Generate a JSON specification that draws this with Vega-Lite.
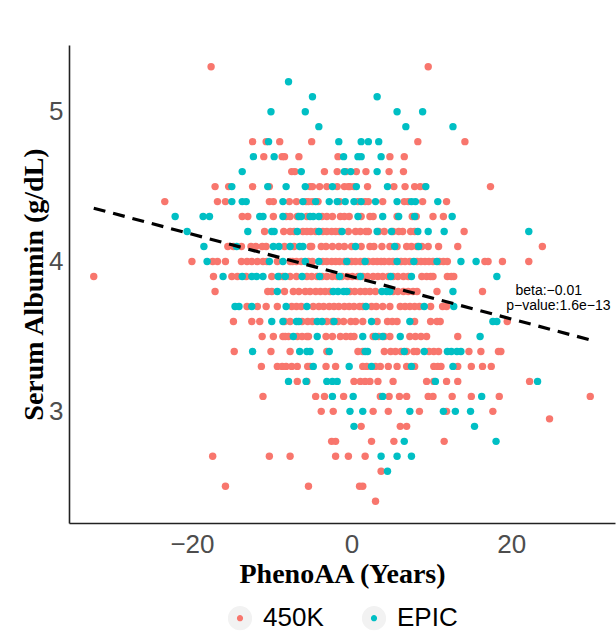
{
"$schema": "https://vega.github.io/schema/vega-lite/v6.json",
"width": 546, "height": 478,
"autosize": {"type": "none"},
"padding": {"left": 69, "top": 45, "right": 1, "bottom": 112},
"background": "white",
"config": {
 "view": {"stroke": null},
 "axis": {"grid": false, "ticks": false, "domainColor": "#222222", "domainWidth": 1.6, "labelColor": "#4D4D4D", "labelFont": "Liberation Sans", "labelFontSize": 26, "titleFont": "Liberation Serif", "titleFontWeight": "bold", "titleFontSize": 28, "titleColor": "black"},
 "legend": {"layout": {"bottom": {"anchor": "middle"}}}
},
"datasets": {
"pts": [
{"x":-17.6,"y":5.3,"s":"450K"},{"x":9.6,"y":5.3,"s":"450K"},
{"x":-7.9,"y":5.2,"s":"EPIC"},
{"x":-4.9,"y":5.1,"s":"EPIC"},{"x":3.2,"y":5.1,"s":"EPIC"},
{"x":-10.1,"y":5.0,"s":"EPIC"},{"x":-5.8,"y":5.0,"s":"EPIC"},{"x":5.7,"y":5.0,"s":"EPIC"},{"x":8.9,"y":5.0,"s":"EPIC"},
{"x":-4.1,"y":4.9,"s":"EPIC"},{"x":6.8,"y":4.9,"s":"EPIC"},{"x":12.7,"y":4.9,"s":"EPIC"},
{"x":-12.4,"y":4.8,"s":"450K"},{"x":-10.7,"y":4.8,"s":"450K"},{"x":-9.0,"y":4.8,"s":"450K"},{"x":-5.0,"y":4.8,"s":"450K"},{"x":8.3,"y":4.8,"s":"450K"},{"x":14.2,"y":4.8,"s":"450K"},
{"x":-10.4,"y":4.8,"s":"EPIC"},{"x":-1.6,"y":4.8,"s":"EPIC"},{"x":1.2,"y":4.8,"s":"EPIC"},{"x":2.1,"y":4.8,"s":"EPIC"},{"x":3.4,"y":4.8,"s":"EPIC"},
{"x":-11.0,"y":4.7,"s":"450K"},{"x":-8.7,"y":4.7,"s":"450K"},{"x":-8.4,"y":4.7,"s":"450K"},{"x":-6.6,"y":4.7,"s":"450K"},{"x":-1.7,"y":4.7,"s":"450K"},{"x":4.8,"y":4.7,"s":"450K"},{"x":6.6,"y":4.7,"s":"450K"},
{"x":-12.3,"y":4.7,"s":"EPIC"},{"x":-9.7,"y":4.7,"s":"EPIC"},{"x":-1.0,"y":4.7,"s":"EPIC"},{"x":0.8,"y":4.7,"s":"EPIC"},{"x":1.2,"y":4.7,"s":"EPIC"},{"x":3.7,"y":4.7,"s":"EPIC"},
{"x":-7.5,"y":4.6,"s":"450K"},{"x":-7.1,"y":4.6,"s":"450K"},{"x":-3.4,"y":4.6,"s":"450K"},{"x":-1.8,"y":4.6,"s":"450K"},{"x":-0.7,"y":4.6,"s":"450K"},{"x":0.6,"y":4.6,"s":"450K"},{"x":1.8,"y":4.6,"s":"450K"},{"x":4.7,"y":4.6,"s":"450K"},{"x":6.5,"y":4.6,"s":"450K"},
{"x":-13.7,"y":4.6,"s":"EPIC"},{"x":-6.3,"y":4.6,"s":"EPIC"},{"x":-0.9,"y":4.6,"s":"EPIC"},{"x":3.2,"y":4.6,"s":"EPIC"},{"x":-0.1,"y":4.6,"s":"EPIC"},
{"x":-17.1,"y":4.5,"s":"450K"},{"x":-15.4,"y":4.5,"s":"450K"},{"x":-12.4,"y":4.5,"s":"450K"},{"x":-10.3,"y":4.5,"s":"450K"},{"x":-5.2,"y":4.5,"s":"450K"},{"x":-4.9,"y":4.5,"s":"450K"},{"x":-4.0,"y":4.5,"s":"450K"},{"x":-3.1,"y":4.5,"s":"450K"},{"x":-1.8,"y":4.5,"s":"450K"},{"x":-0.9,"y":4.5,"s":"450K"},{"x":-0.4,"y":4.5,"s":"450K"},{"x":-0.2,"y":4.5,"s":"450K"},{"x":0.3,"y":4.5,"s":"450K"},{"x":2.0,"y":4.5,"s":"450K"},{"x":5.3,"y":4.5,"s":"450K"},{"x":6.7,"y":4.5,"s":"450K"},{"x":7.9,"y":4.5,"s":"450K"},{"x":8.6,"y":4.5,"s":"450K"},{"x":9.2,"y":4.5,"s":"450K"},{"x":17.4,"y":4.5,"s":"450K"},
{"x":-15.0,"y":4.5,"s":"EPIC"},{"x":-10.5,"y":4.5,"s":"EPIC"},{"x":-8.2,"y":4.5,"s":"EPIC"},{"x":-5.8,"y":4.5,"s":"EPIC"},{"x":-2.4,"y":4.5,"s":"EPIC"},{"x":0.6,"y":4.5,"s":"EPIC"},{"x":4.5,"y":4.5,"s":"EPIC"},{"x":9.3,"y":4.5,"s":"EPIC"},
{"x":-23.4,"y":4.4,"s":"450K"},{"x":-16.8,"y":4.4,"s":"450K"},{"x":-15.8,"y":4.4,"s":"450K"},{"x":-10.3,"y":4.4,"s":"450K"},{"x":-9.8,"y":4.4,"s":"450K"},{"x":-7.8,"y":4.4,"s":"450K"},{"x":-6.9,"y":4.4,"s":"450K"},{"x":-5.7,"y":4.4,"s":"450K"},{"x":-5.4,"y":4.4,"s":"450K"},{"x":-4.9,"y":4.4,"s":"450K"},{"x":-4.2,"y":4.4,"s":"450K"},{"x":-1.5,"y":4.4,"s":"450K"},{"x":0.8,"y":4.4,"s":"450K"},{"x":1.7,"y":4.4,"s":"450K"},{"x":2.1,"y":4.4,"s":"450K"},{"x":3.9,"y":4.4,"s":"450K"},{"x":6.6,"y":4.4,"s":"450K"},{"x":7.1,"y":4.4,"s":"450K"},{"x":8.9,"y":4.4,"s":"450K"},{"x":11.9,"y":4.4,"s":"450K"},
{"x":-15.0,"y":4.4,"s":"EPIC"},{"x":-13.7,"y":4.4,"s":"EPIC"},{"x":-13.2,"y":4.4,"s":"EPIC"},{"x":-8.6,"y":4.4,"s":"EPIC"},{"x":-6.1,"y":4.4,"s":"EPIC"},{"x":-4.5,"y":4.4,"s":"EPIC"},{"x":-2.8,"y":4.4,"s":"EPIC"},{"x":-1.8,"y":4.4,"s":"EPIC"},{"x":-0.8,"y":4.4,"s":"EPIC"},{"x":0.3,"y":4.4,"s":"EPIC"},{"x":1.2,"y":4.4,"s":"EPIC"},{"x":3.0,"y":4.4,"s":"EPIC"},{"x":5.7,"y":4.4,"s":"EPIC"},{"x":7.5,"y":4.4,"s":"EPIC"},{"x":8.0,"y":4.4,"s":"EPIC"},{"x":10.8,"y":4.4,"s":"EPIC"},
{"x":-13.7,"y":4.3,"s":"450K"},{"x":-13.0,"y":4.3,"s":"450K"},{"x":-9.8,"y":4.3,"s":"450K"},{"x":-8.2,"y":4.3,"s":"450K"},{"x":-7.7,"y":4.3,"s":"450K"},{"x":-6.8,"y":4.3,"s":"450K"},{"x":-5.6,"y":4.3,"s":"450K"},{"x":-3.7,"y":4.3,"s":"450K"},{"x":-3.1,"y":4.3,"s":"450K"},{"x":-2.4,"y":4.3,"s":"450K"},{"x":-1.4,"y":4.3,"s":"450K"},{"x":-0.9,"y":4.3,"s":"450K"},{"x":-0.3,"y":4.3,"s":"450K"},{"x":1.2,"y":4.3,"s":"450K"},{"x":2.3,"y":4.3,"s":"450K"},{"x":2.7,"y":4.3,"s":"450K"},{"x":5.7,"y":4.3,"s":"450K"},{"x":7.6,"y":4.3,"s":"450K"},{"x":8.1,"y":4.3,"s":"450K"},{"x":10.2,"y":4.3,"s":"450K"},{"x":11.5,"y":4.3,"s":"450K"},
{"x":-22.1,"y":4.3,"s":"EPIC"},{"x":-18.6,"y":4.3,"s":"EPIC"},{"x":-17.8,"y":4.3,"s":"EPIC"},{"x":-11.5,"y":4.3,"s":"EPIC"},{"x":-11.1,"y":4.3,"s":"EPIC"},{"x":-8.6,"y":4.3,"s":"EPIC"},{"x":-6.6,"y":4.3,"s":"EPIC"},{"x":-6.3,"y":4.3,"s":"EPIC"},{"x":-5.2,"y":4.3,"s":"EPIC"},{"x":-4.8,"y":4.3,"s":"EPIC"},{"x":-4.1,"y":4.3,"s":"EPIC"},{"x":0.8,"y":4.3,"s":"EPIC"},{"x":3.9,"y":4.3,"s":"EPIC"},{"x":5.9,"y":4.3,"s":"EPIC"},{"x":7.9,"y":4.3,"s":"EPIC"},{"x":12.6,"y":4.3,"s":"EPIC"},
{"x":-10.9,"y":4.2,"s":"450K"},{"x":-8.5,"y":4.2,"s":"450K"},{"x":-7.7,"y":4.2,"s":"450K"},{"x":-7.2,"y":4.2,"s":"450K"},{"x":-6.1,"y":4.2,"s":"450K"},{"x":-5.6,"y":4.2,"s":"450K"},{"x":-5.1,"y":4.2,"s":"450K"},{"x":-4.5,"y":4.2,"s":"450K"},{"x":-3.6,"y":4.2,"s":"450K"},{"x":-3.1,"y":4.2,"s":"450K"},{"x":-2.5,"y":4.2,"s":"450K"},{"x":-2.0,"y":4.2,"s":"450K"},{"x":-1.5,"y":4.2,"s":"450K"},{"x":-0.4,"y":4.2,"s":"450K"},{"x":0.5,"y":4.2,"s":"450K"},{"x":1.1,"y":4.2,"s":"450K"},{"x":1.8,"y":4.2,"s":"450K"},{"x":2.1,"y":4.2,"s":"450K"},{"x":3.4,"y":4.2,"s":"450K"},{"x":4.1,"y":4.2,"s":"450K"},{"x":5.2,"y":4.2,"s":"450K"},{"x":5.9,"y":4.2,"s":"450K"},{"x":6.4,"y":4.2,"s":"450K"},{"x":7.4,"y":4.2,"s":"450K"},{"x":7.9,"y":4.2,"s":"450K"},{"x":14.1,"y":4.2,"s":"450K"},
{"x":-20.6,"y":4.2,"s":"EPIC"},{"x":-13.0,"y":4.2,"s":"EPIC"},{"x":-10.0,"y":4.2,"s":"EPIC"},{"x":-9.7,"y":4.2,"s":"EPIC"},{"x":-6.8,"y":4.2,"s":"EPIC"},{"x":-4.1,"y":4.2,"s":"EPIC"},{"x":-1.2,"y":4.2,"s":"EPIC"},{"x":3.2,"y":4.2,"s":"EPIC"},{"x":5.0,"y":4.2,"s":"EPIC"},{"x":8.3,"y":4.2,"s":"EPIC"},{"x":9.6,"y":4.2,"s":"EPIC"},{"x":11.6,"y":4.2,"s":"EPIC"},{"x":22.2,"y":4.2,"s":"EPIC"},
{"x":-15.5,"y":4.1,"s":"450K"},{"x":-14.8,"y":4.1,"s":"450K"},{"x":-13.8,"y":4.1,"s":"450K"},{"x":-12.6,"y":4.1,"s":"450K"},{"x":-12.0,"y":4.1,"s":"450K"},{"x":-11.2,"y":4.1,"s":"450K"},{"x":-10.7,"y":4.1,"s":"450K"},{"x":-8.4,"y":4.1,"s":"450K"},{"x":-7.2,"y":4.1,"s":"450K"},{"x":-5.2,"y":4.1,"s":"450K"},{"x":-5.0,"y":4.1,"s":"450K"},{"x":-3.8,"y":4.1,"s":"450K"},{"x":-3.2,"y":4.1,"s":"450K"},{"x":-2.4,"y":4.1,"s":"450K"},{"x":-1.6,"y":4.1,"s":"450K"},{"x":-0.9,"y":4.1,"s":"450K"},{"x":0.0,"y":4.1,"s":"450K"},{"x":1.2,"y":4.1,"s":"450K"},{"x":2.3,"y":4.1,"s":"450K"},{"x":2.8,"y":4.1,"s":"450K"},{"x":3.8,"y":4.1,"s":"450K"},{"x":4.8,"y":4.1,"s":"450K"},{"x":5.7,"y":4.1,"s":"450K"},{"x":6.9,"y":4.1,"s":"450K"},{"x":7.5,"y":4.1,"s":"450K"},{"x":8.2,"y":4.1,"s":"450K"},{"x":8.8,"y":4.1,"s":"450K"},{"x":9.6,"y":4.1,"s":"450K"},{"x":10.9,"y":4.1,"s":"450K"},{"x":13.3,"y":4.1,"s":"450K"},{"x":23.9,"y":4.1,"s":"450K"},
{"x":-18.5,"y":4.1,"s":"EPIC"},{"x":-14.4,"y":4.1,"s":"EPIC"},{"x":-9.8,"y":4.1,"s":"EPIC"},{"x":-9.1,"y":4.1,"s":"EPIC"},{"x":-7.7,"y":4.1,"s":"EPIC"},{"x":-6.5,"y":4.1,"s":"EPIC"},{"x":-6.1,"y":4.1,"s":"EPIC"},{"x":0.5,"y":4.1,"s":"EPIC"},{"x":5.4,"y":4.1,"s":"EPIC"},{"x":8.4,"y":4.1,"s":"EPIC"},
{"x":-20.0,"y":4.0,"s":"450K"},{"x":-17.4,"y":4.0,"s":"450K"},{"x":-16.8,"y":4.0,"s":"450K"},{"x":-15.8,"y":4.0,"s":"450K"},{"x":-13.8,"y":4.0,"s":"450K"},{"x":-13.1,"y":4.0,"s":"450K"},{"x":-12.5,"y":4.0,"s":"450K"},{"x":-11.8,"y":4.0,"s":"450K"},{"x":-11.1,"y":4.0,"s":"450K"},{"x":-10.6,"y":4.0,"s":"450K"},{"x":-9.3,"y":4.0,"s":"450K"},{"x":-7.7,"y":4.0,"s":"450K"},{"x":-7.4,"y":4.0,"s":"450K"},{"x":-6.9,"y":4.0,"s":"450K"},{"x":-6.3,"y":4.0,"s":"450K"},{"x":-5.4,"y":4.0,"s":"450K"},{"x":-4.9,"y":4.0,"s":"450K"},{"x":-3.6,"y":4.0,"s":"450K"},{"x":-3.1,"y":4.0,"s":"450K"},{"x":-2.5,"y":4.0,"s":"450K"},{"x":-2.0,"y":4.0,"s":"450K"},{"x":-1.5,"y":4.0,"s":"450K"},{"x":-0.9,"y":4.0,"s":"450K"},{"x":-0.4,"y":4.0,"s":"450K"},{"x":0.0,"y":4.0,"s":"450K"},{"x":0.5,"y":4.0,"s":"450K"},{"x":1.1,"y":4.0,"s":"450K"},{"x":1.5,"y":4.0,"s":"450K"},{"x":2.1,"y":4.0,"s":"450K"},{"x":2.7,"y":4.0,"s":"450K"},{"x":3.2,"y":4.0,"s":"450K"},{"x":3.7,"y":4.0,"s":"450K"},{"x":4.1,"y":4.0,"s":"450K"},{"x":4.7,"y":4.0,"s":"450K"},{"x":5.2,"y":4.0,"s":"450K"},{"x":6.2,"y":4.0,"s":"450K"},{"x":6.7,"y":4.0,"s":"450K"},{"x":7.3,"y":4.0,"s":"450K"},{"x":8.2,"y":4.0,"s":"450K"},{"x":8.7,"y":4.0,"s":"450K"},{"x":9.2,"y":4.0,"s":"450K"},{"x":9.7,"y":4.0,"s":"450K"},{"x":10.2,"y":4.0,"s":"450K"},{"x":11.0,"y":4.0,"s":"450K"},{"x":11.5,"y":4.0,"s":"450K"},{"x":12.0,"y":4.0,"s":"450K"},{"x":16.7,"y":4.0,"s":"450K"},{"x":17.1,"y":4.0,"s":"450K"},{"x":18.9,"y":4.0,"s":"450K"},{"x":22.2,"y":4.0,"s":"450K"},
{"x":-18.1,"y":4.0,"s":"EPIC"},{"x":-10.3,"y":4.0,"s":"EPIC"},{"x":-8.6,"y":4.0,"s":"EPIC"},{"x":-5.8,"y":4.0,"s":"EPIC"},{"x":-4.1,"y":4.0,"s":"EPIC"},{"x":-0.6,"y":4.0,"s":"EPIC"},{"x":1.7,"y":4.0,"s":"EPIC"},{"x":5.7,"y":4.0,"s":"EPIC"},{"x":7.8,"y":4.0,"s":"EPIC"},{"x":10.7,"y":4.0,"s":"EPIC"},{"x":13.7,"y":4.0,"s":"EPIC"},{"x":15.6,"y":4.0,"s":"EPIC"},
{"x":-32.3,"y":3.9,"s":"450K"},{"x":-17.3,"y":3.9,"s":"450K"},{"x":-15.0,"y":3.9,"s":"450K"},{"x":-14.3,"y":3.9,"s":"450K"},{"x":-13.2,"y":3.9,"s":"450K"},{"x":-10.0,"y":3.9,"s":"450K"},{"x":-9.0,"y":3.9,"s":"450K"},{"x":-8.6,"y":3.9,"s":"450K"},{"x":-7.7,"y":3.9,"s":"450K"},{"x":-6.9,"y":3.9,"s":"450K"},{"x":-5.6,"y":3.9,"s":"450K"},{"x":-5.0,"y":3.9,"s":"450K"},{"x":-4.3,"y":3.9,"s":"450K"},{"x":-3.7,"y":3.9,"s":"450K"},{"x":-3.1,"y":3.9,"s":"450K"},{"x":-2.4,"y":3.9,"s":"450K"},{"x":-1.8,"y":3.9,"s":"450K"},{"x":-1.2,"y":3.9,"s":"450K"},{"x":-0.5,"y":3.9,"s":"450K"},{"x":0.1,"y":3.9,"s":"450K"},{"x":0.8,"y":3.9,"s":"450K"},{"x":1.4,"y":3.9,"s":"450K"},{"x":2.0,"y":3.9,"s":"450K"},{"x":2.7,"y":3.9,"s":"450K"},{"x":3.3,"y":3.9,"s":"450K"},{"x":3.9,"y":3.9,"s":"450K"},{"x":4.6,"y":3.9,"s":"450K"},{"x":5.2,"y":3.9,"s":"450K"},{"x":5.8,"y":3.9,"s":"450K"},{"x":6.5,"y":3.9,"s":"450K"},{"x":7.1,"y":3.9,"s":"450K"},{"x":8.8,"y":3.9,"s":"450K"},{"x":9.4,"y":3.9,"s":"450K"},{"x":9.9,"y":3.9,"s":"450K"},{"x":10.2,"y":3.9,"s":"450K"},{"x":12.0,"y":3.9,"s":"450K"},{"x":12.5,"y":3.9,"s":"450K"},{"x":12.8,"y":3.9,"s":"450K"},
{"x":-16.1,"y":3.9,"s":"EPIC"},{"x":-13.7,"y":3.9,"s":"EPIC"},{"x":-12.5,"y":3.9,"s":"EPIC"},{"x":-11.9,"y":3.9,"s":"EPIC"},{"x":-11.1,"y":3.9,"s":"EPIC"},{"x":-9.2,"y":3.9,"s":"EPIC"},{"x":-8.3,"y":3.9,"s":"EPIC"},{"x":-6.2,"y":3.9,"s":"EPIC"},{"x":-4.0,"y":3.9,"s":"EPIC"},{"x":-1.5,"y":3.9,"s":"EPIC"},{"x":1.1,"y":3.9,"s":"EPIC"},{"x":4.9,"y":3.9,"s":"EPIC"},{"x":7.5,"y":3.9,"s":"EPIC"},{"x":18.2,"y":3.9,"s":"EPIC"},
{"x":-17.1,"y":3.8,"s":"450K"},{"x":-10.5,"y":3.8,"s":"450K"},{"x":-10.0,"y":3.8,"s":"450K"},{"x":-8.4,"y":3.8,"s":"450K"},{"x":-7.3,"y":3.8,"s":"450K"},{"x":-6.6,"y":3.8,"s":"450K"},{"x":-5.8,"y":3.8,"s":"450K"},{"x":-5.2,"y":3.8,"s":"450K"},{"x":-4.5,"y":3.8,"s":"450K"},{"x":-3.9,"y":3.8,"s":"450K"},{"x":-3.3,"y":3.8,"s":"450K"},{"x":-2.7,"y":3.8,"s":"450K"},{"x":-0.2,"y":3.8,"s":"450K"},{"x":0.4,"y":3.8,"s":"450K"},{"x":1.1,"y":3.8,"s":"450K"},{"x":1.7,"y":3.8,"s":"450K"},{"x":2.3,"y":3.8,"s":"450K"},{"x":3.0,"y":3.8,"s":"450K"},{"x":5.2,"y":3.8,"s":"450K"},{"x":5.8,"y":3.8,"s":"450K"},{"x":6.5,"y":3.8,"s":"450K"},{"x":7.1,"y":3.8,"s":"450K"},{"x":7.7,"y":3.8,"s":"450K"},{"x":8.2,"y":3.8,"s":"450K"},{"x":10.7,"y":3.8,"s":"450K"},{"x":16.4,"y":3.8,"s":"450K"},
{"x":-9.3,"y":3.8,"s":"EPIC"},{"x":-2.3,"y":3.8,"s":"EPIC"},{"x":-1.7,"y":3.8,"s":"EPIC"},{"x":-1.0,"y":3.8,"s":"EPIC"},{"x":-0.6,"y":3.8,"s":"EPIC"},{"x":3.8,"y":3.8,"s":"EPIC"},{"x":4.4,"y":3.8,"s":"EPIC"},{"x":4.8,"y":3.8,"s":"EPIC"},{"x":12.7,"y":3.8,"s":"EPIC"},
{"x":-13.1,"y":3.7,"s":"450K"},{"x":-11.8,"y":3.7,"s":"450K"},{"x":-10.7,"y":3.7,"s":"450K"},{"x":-9.3,"y":3.7,"s":"450K"},{"x":-7.5,"y":3.7,"s":"450K"},{"x":-6.9,"y":3.7,"s":"450K"},{"x":-6.3,"y":3.7,"s":"450K"},{"x":-4.8,"y":3.7,"s":"450K"},{"x":-4.1,"y":3.7,"s":"450K"},{"x":-3.5,"y":3.7,"s":"450K"},{"x":-2.8,"y":3.7,"s":"450K"},{"x":-2.2,"y":3.7,"s":"450K"},{"x":-1.6,"y":3.7,"s":"450K"},{"x":-0.9,"y":3.7,"s":"450K"},{"x":-0.3,"y":3.7,"s":"450K"},{"x":0.3,"y":3.7,"s":"450K"},{"x":1.0,"y":3.7,"s":"450K"},{"x":1.4,"y":3.7,"s":"450K"},{"x":2.5,"y":3.7,"s":"450K"},{"x":3.1,"y":3.7,"s":"450K"},{"x":3.9,"y":3.7,"s":"450K"},{"x":4.8,"y":3.7,"s":"450K"},{"x":6.1,"y":3.7,"s":"450K"},{"x":6.7,"y":3.7,"s":"450K"},{"x":7.3,"y":3.7,"s":"450K"},{"x":7.9,"y":3.7,"s":"450K"},{"x":8.5,"y":3.7,"s":"450K"},{"x":9.9,"y":3.7,"s":"450K"},{"x":11.4,"y":3.7,"s":"450K"},{"x":11.9,"y":3.7,"s":"450K"},
{"x":-14.6,"y":3.7,"s":"EPIC"},{"x":-14.1,"y":3.7,"s":"EPIC"},{"x":-12.5,"y":3.7,"s":"EPIC"},{"x":-8.2,"y":3.7,"s":"EPIC"},{"x":-5.6,"y":3.7,"s":"EPIC"},{"x":1.8,"y":3.7,"s":"EPIC"},{"x":9.1,"y":3.7,"s":"EPIC"},{"x":12.8,"y":3.7,"s":"EPIC"},
{"x":-14.8,"y":3.6,"s":"450K"},{"x":-12.5,"y":3.6,"s":"450K"},{"x":-11.5,"y":3.6,"s":"450K"},{"x":-8.4,"y":3.6,"s":"450K"},{"x":-7.7,"y":3.6,"s":"450K"},{"x":-6.2,"y":3.6,"s":"450K"},{"x":-5.5,"y":3.6,"s":"450K"},{"x":-4.9,"y":3.6,"s":"450K"},{"x":-3.1,"y":3.6,"s":"450K"},{"x":-2.4,"y":3.6,"s":"450K"},{"x":-1.7,"y":3.6,"s":"450K"},{"x":-1.0,"y":3.6,"s":"450K"},{"x":-0.1,"y":3.6,"s":"450K"},{"x":0.5,"y":3.6,"s":"450K"},{"x":1.4,"y":3.6,"s":"450K"},{"x":3.2,"y":3.6,"s":"450K"},{"x":4.5,"y":3.6,"s":"450K"},{"x":5.1,"y":3.6,"s":"450K"},{"x":5.7,"y":3.6,"s":"450K"},{"x":7.9,"y":3.6,"s":"450K"},{"x":9.9,"y":3.6,"s":"450K"},{"x":10.7,"y":3.6,"s":"450K"},{"x":11.1,"y":3.6,"s":"450K"},{"x":19.5,"y":3.6,"s":"450K"},
{"x":-10.0,"y":3.6,"s":"EPIC"},{"x":-8.6,"y":3.6,"s":"EPIC"},{"x":-6.9,"y":3.6,"s":"EPIC"},{"x":-6.6,"y":3.6,"s":"EPIC"},{"x":-4.3,"y":3.6,"s":"EPIC"},{"x":-3.7,"y":3.6,"s":"EPIC"},{"x":-2.2,"y":3.6,"s":"EPIC"},{"x":2.5,"y":3.6,"s":"EPIC"},{"x":7.3,"y":3.6,"s":"EPIC"},{"x":17.7,"y":3.6,"s":"EPIC"},{"x":18.2,"y":3.6,"s":"EPIC"},
{"x":-11.2,"y":3.5,"s":"450K"},{"x":-9.8,"y":3.5,"s":"450K"},{"x":-8.6,"y":3.5,"s":"450K"},{"x":-8.3,"y":3.5,"s":"450K"},{"x":-7.9,"y":3.5,"s":"450K"},{"x":-6.8,"y":3.5,"s":"450K"},{"x":-6.2,"y":3.5,"s":"450K"},{"x":-5.6,"y":3.5,"s":"450K"},{"x":-5.4,"y":3.5,"s":"450K"},{"x":-3.2,"y":3.5,"s":"450K"},{"x":-2.4,"y":3.5,"s":"450K"},{"x":-1.4,"y":3.5,"s":"450K"},{"x":-0.7,"y":3.5,"s":"450K"},{"x":-0.1,"y":3.5,"s":"450K"},{"x":0.3,"y":3.5,"s":"450K"},{"x":2.7,"y":3.5,"s":"450K"},{"x":3.4,"y":3.5,"s":"450K"},{"x":4.1,"y":3.5,"s":"450K"},{"x":4.8,"y":3.5,"s":"450K"},{"x":7.3,"y":3.5,"s":"450K"},{"x":8.0,"y":3.5,"s":"450K"},{"x":8.7,"y":3.5,"s":"450K"},{"x":9.4,"y":3.5,"s":"450K"},{"x":13.3,"y":3.5,"s":"450K"},
{"x":-7.3,"y":3.5,"s":"EPIC"},{"x":-4.3,"y":3.5,"s":"EPIC"},{"x":1.4,"y":3.5,"s":"EPIC"},{"x":3.0,"y":3.5,"s":"EPIC"},{"x":3.9,"y":3.5,"s":"EPIC"},{"x":6.1,"y":3.5,"s":"EPIC"},{"x":16.1,"y":3.5,"s":"EPIC"},
{"x":-14.7,"y":3.4,"s":"450K"},{"x":-10.1,"y":3.4,"s":"450K"},{"x":-7.7,"y":3.4,"s":"450K"},{"x":-3.1,"y":3.4,"s":"450K"},{"x":0.8,"y":3.4,"s":"450K"},{"x":1.4,"y":3.4,"s":"450K"},{"x":4.1,"y":3.4,"s":"450K"},{"x":4.9,"y":3.4,"s":"450K"},{"x":5.5,"y":3.4,"s":"450K"},{"x":6.2,"y":3.4,"s":"450K"},{"x":6.9,"y":3.4,"s":"450K"},{"x":7.8,"y":3.4,"s":"450K"},{"x":8.2,"y":3.4,"s":"450K"},{"x":9.7,"y":3.4,"s":"450K"},{"x":10.3,"y":3.4,"s":"450K"},{"x":10.9,"y":3.4,"s":"450K"},{"x":14.7,"y":3.4,"s":"450K"},{"x":16.2,"y":3.4,"s":"450K"},{"x":18.4,"y":3.4,"s":"450K"},{"x":18.7,"y":3.4,"s":"450K"},
{"x":-12.4,"y":3.4,"s":"EPIC"},{"x":-6.5,"y":3.4,"s":"EPIC"},{"x":-5.6,"y":3.4,"s":"EPIC"},{"x":-5.2,"y":3.4,"s":"EPIC"},{"x":-2.8,"y":3.4,"s":"EPIC"},{"x":1.7,"y":3.4,"s":"EPIC"},{"x":2.0,"y":3.4,"s":"EPIC"},{"x":6.6,"y":3.4,"s":"EPIC"},{"x":9.1,"y":3.4,"s":"EPIC"},{"x":12.0,"y":3.4,"s":"EPIC"},{"x":12.5,"y":3.4,"s":"EPIC"},{"x":13.2,"y":3.4,"s":"EPIC"},{"x":13.7,"y":3.4,"s":"EPIC"},
{"x":-11.3,"y":3.3,"s":"450K"},{"x":-9.3,"y":3.3,"s":"450K"},{"x":-8.7,"y":3.3,"s":"450K"},{"x":-8.2,"y":3.3,"s":"450K"},{"x":-7.5,"y":3.3,"s":"450K"},{"x":-6.8,"y":3.3,"s":"450K"},{"x":-5.5,"y":3.3,"s":"450K"},{"x":-5.2,"y":3.3,"s":"450K"},{"x":-3.2,"y":3.3,"s":"450K"},{"x":-2.0,"y":3.3,"s":"450K"},{"x":1.4,"y":3.3,"s":"450K"},{"x":1.9,"y":3.3,"s":"450K"},{"x":3.0,"y":3.3,"s":"450K"},{"x":3.6,"y":3.3,"s":"450K"},{"x":4.6,"y":3.3,"s":"450K"},{"x":5.7,"y":3.3,"s":"450K"},{"x":6.9,"y":3.3,"s":"450K"},{"x":7.9,"y":3.3,"s":"450K"},{"x":10.3,"y":3.3,"s":"450K"},{"x":10.8,"y":3.3,"s":"450K"},{"x":11.2,"y":3.3,"s":"450K"},{"x":13.3,"y":3.3,"s":"450K"},{"x":15.0,"y":3.3,"s":"450K"},{"x":16.4,"y":3.3,"s":"450K"},{"x":17.5,"y":3.3,"s":"450K"},
{"x":-4.8,"y":3.3,"s":"EPIC"},{"x":-0.3,"y":3.3,"s":"EPIC"},{"x":2.5,"y":3.3,"s":"EPIC"},{"x":7.5,"y":3.3,"s":"EPIC"},{"x":12.7,"y":3.3,"s":"EPIC"},
{"x":-6.8,"y":3.2,"s":"450K"},{"x":-5.6,"y":3.2,"s":"450K"},{"x":0.3,"y":3.2,"s":"450K"},{"x":1.1,"y":3.2,"s":"450K"},{"x":1.7,"y":3.2,"s":"450K"},{"x":2.3,"y":3.2,"s":"450K"},{"x":3.3,"y":3.2,"s":"450K"},{"x":5.2,"y":3.2,"s":"450K"},{"x":9.4,"y":3.2,"s":"450K"},{"x":10.3,"y":3.2,"s":"450K"},{"x":11.9,"y":3.2,"s":"450K"},{"x":13.3,"y":3.2,"s":"450K"},{"x":22.3,"y":3.2,"s":"450K"},
{"x":-7.9,"y":3.2,"s":"EPIC"},{"x":-5.7,"y":3.2,"s":"EPIC"},{"x":-3.1,"y":3.2,"s":"EPIC"},{"x":-2.4,"y":3.2,"s":"EPIC"},{"x":-1.8,"y":3.2,"s":"EPIC"},{"x":10.5,"y":3.2,"s":"EPIC"},{"x":23.3,"y":3.2,"s":"EPIC"},
{"x":-11.1,"y":3.1,"s":"450K"},{"x":-4.5,"y":3.1,"s":"450K"},{"x":-3.4,"y":3.1,"s":"450K"},{"x":-1.0,"y":3.1,"s":"450K"},{"x":3.6,"y":3.1,"s":"450K"},{"x":4.7,"y":3.1,"s":"450K"},{"x":6.0,"y":3.1,"s":"450K"},{"x":6.9,"y":3.1,"s":"450K"},{"x":9.6,"y":3.1,"s":"450K"},{"x":10.2,"y":3.1,"s":"450K"},{"x":12.6,"y":3.1,"s":"450K"},{"x":15.0,"y":3.1,"s":"450K"},{"x":18.5,"y":3.1,"s":"450K"},{"x":29.9,"y":3.1,"s":"450K"},
{"x":-2.4,"y":3.1,"s":"EPIC"},{"x":0.2,"y":3.1,"s":"EPIC"},{"x":3.9,"y":3.1,"s":"EPIC"},{"x":16.3,"y":3.1,"s":"EPIC"},
{"x":-3.8,"y":3.0,"s":"450K"},{"x":-2.3,"y":3.0,"s":"450K"},{"x":2.7,"y":3.0,"s":"450K"},{"x":4.6,"y":3.0,"s":"450K"},{"x":8.5,"y":3.0,"s":"450K"},{"x":11.9,"y":3.0,"s":"450K"},{"x":17.7,"y":3.0,"s":"450K"},
{"x":-0.2,"y":3.0,"s":"EPIC"},{"x":1.4,"y":3.0,"s":"EPIC"},{"x":7.3,"y":3.0,"s":"EPIC"},{"x":11.5,"y":3.0,"s":"EPIC"},{"x":13.0,"y":3.0,"s":"EPIC"},{"x":14.9,"y":3.0,"s":"EPIC"},
{"x":24.8,"y":2.95,"s":"450K"},
{"x":1.2,"y":2.9,"s":"450K"},{"x":6.1,"y":2.9,"s":"450K"},{"x":6.9,"y":2.9,"s":"450K"},
{"x":0.3,"y":2.9,"s":"EPIC"},{"x":15.4,"y":2.9,"s":"EPIC"},
{"x":-2.5,"y":2.8,"s":"450K"},{"x":-2.0,"y":2.8,"s":"450K"},{"x":2.5,"y":2.8,"s":"450K"},{"x":5.3,"y":2.8,"s":"450K"},{"x":11.6,"y":2.8,"s":"450K"},
{"x":6.6,"y":2.8,"s":"EPIC"},{"x":18.1,"y":2.8,"s":"EPIC"},
{"x":-17.4,"y":2.7,"s":"450K"},{"x":-10.3,"y":2.7,"s":"450K"},{"x":-7.7,"y":2.7,"s":"450K"},{"x":-2.0,"y":2.7,"s":"450K"},{"x":-0.4,"y":2.7,"s":"450K"},{"x":1.7,"y":2.7,"s":"450K"},
{"x":3.7,"y":2.7,"s":"EPIC"},{"x":5.7,"y":2.7,"s":"EPIC"},{"x":7.5,"y":2.7,"s":"EPIC"},
{"x":3.7,"y":2.6,"s":"450K"},{"x":4.5,"y":2.6,"s":"EPIC"},
{"x":-15.8,"y":2.5,"s":"450K"},{"x":-5.4,"y":2.5,"s":"450K"},{"x":1.0,"y":2.5,"s":"450K"},{"x":1.4,"y":2.5,"s":"450K"},
{"x":3.0,"y":2.4,"s":"450K"}
],
"fit": [{"x":-32.3,"y":4.356},{"x":29.9,"y":3.477}],
"ann": [{"x":24.7,"y":3.8,"t":"beta:−0.01"},{"x":25.9,"y":3.7,"t":"p−value:1.6e−13"}]
},
"layer": [
 {
  "data": {"name": "pts"},
  "mark": {"type": "point", "filled": true, "size": 55, "opacity": 1},
  "encoding": {
   "x": {"field": "x", "type": "quantitative", "scale": {"domain": [-35.4, 33.0], "nice": false, "zero": false}, "axis": {"values": [-20, 0, 20], "title": "PhenoAA (Years)", "labelPadding": 8, "titlePadding": 3}},
   "y": {"field": "y", "type": "quantitative", "scale": {"domain": [2.255, 5.445], "nice": false, "zero": false}, "axis": {"values": [3, 4, 5], "format": "d", "title": "Serum Albumin (g/dL)", "labelPadding": 6, "titlePadding": 0}},
   "color": {"field": "s", "type": "nominal", "scale": {"domain": ["450K", "EPIC"], "range": ["#F8766D", "#00BFC4"]},
    "legend": {"title": null, "orient": "bottom", "direction": "horizontal", "labelFont": "Liberation Sans", "labelFontSize": 26, "labelColor": "black", "symbolType": "circle", "symbolSize": 230, "symbolStrokeColor": "#F2F2F2", "symbolStrokeWidth": 9, "symbolOpacity": 1, "columnPadding": 24, "labelOffset": 10, "offset": 17,
     "encode": {"symbols": {"enter": {"stroke": {"value": "#F2F2F2"}, "strokeWidth": {"value": 9}, "strokeOpacity": {"value": 1}}, "update": {"stroke": {"value": "#F2F2F2"}, "strokeWidth": {"value": 9}, "strokeOpacity": {"value": 1}, "opacity": {"value": 1}}}}}
   }
  }
 },
 {
  "data": {"name": "fit"},
  "mark": {"type": "line", "color": "black", "strokeWidth": 3.2, "strokeDash": [12, 8]},
  "encoding": {"x": {"field": "x", "type": "quantitative"}, "y": {"field": "y", "type": "quantitative"}}
 },
 {
  "data": {"name": "ann"},
  "mark": {"type": "text", "font": "Liberation Sans", "fontSize": 14, "color": "black"},
  "encoding": {"x": {"field": "x", "type": "quantitative"}, "y": {"field": "y", "type": "quantitative"}, "text": {"field": "t"}}
 }
]
}
